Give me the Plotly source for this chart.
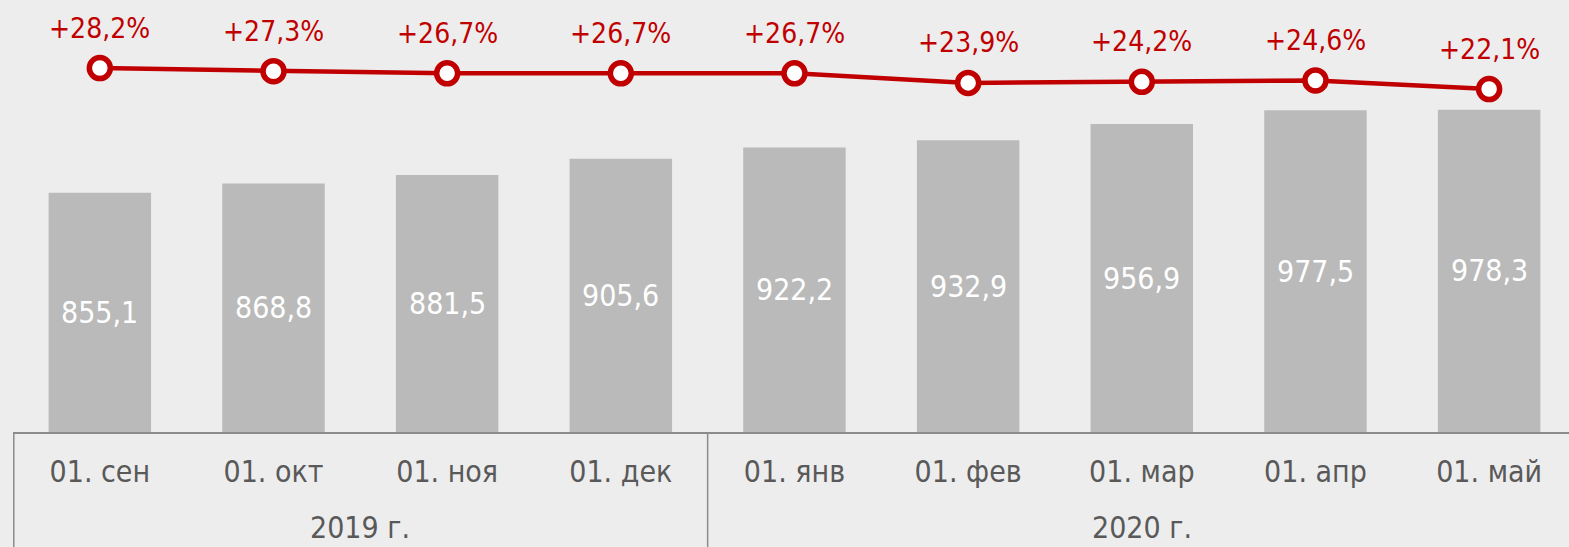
import plotly.graph_objects as go

categories = ["01. сен", "01. окт", "01. ноя", "01. дек", "01. янв",
              "01. фев", "01. мар", "01. апр", "01. май"]
bar_values = [855.1, 868.8, 881.5, 905.6, 922.2, 932.9, 956.9, 977.5, 978.3]
growth_pct = [28.2, 27.3, 26.7, 26.7, 26.7, 23.9, 24.2, 24.6, 22.1]
year_labels = ["2019 г.", "2020 г."]
year_centers = [1.5, 6.0]
year_dividers = [3.5]

Y_MIN, Y_MAX = 500, 1141

FONT = "DejaVu Sans Condensed, DejaVu Sans, sans-serif"
RED = "#C00000"
GREY_TXT = "#595959"
LINE_GREY = "#8C8C8C"

fig = go.Figure()
fig.add_trace(go.Bar(
    x=categories, y=bar_values, width=0.59,
    marker=dict(color="#BABABA", line=dict(width=0)),
    textposition="none", showlegend=False,
))
fig.add_trace(go.Scatter(
    x=categories, y=growth_pct, yaxis="y2", mode="lines+markers",
    line=dict(color=RED, width=4.5),
    marker=dict(size=21, color="white", line=dict(color=RED, width=5.5)),
    cliponaxis=False, showlegend=False,
))

# value labels centred in the visible part of each bar
for c, v in zip(categories, bar_values):
    fig.add_annotation(
        x=c, y=(v + Y_MIN) / 2, yref="y", showarrow=False,
        text=f"{v:.1f}".replace(".", ","),
        font=dict(family=FONT, size=30, color="white"),
    )

for c, v in zip(categories, growth_pct):
    fig.add_annotation(
        x=c, y=v, yref="y2", yshift=40, showarrow=False,
        text=("+" + f"{v:.1f}%").replace(".", ","),
        font=dict(family=FONT, size=28, color=RED),
    )

for xc, lbl in zip(year_centers, year_labels):
    fig.add_annotation(
        x=xc, xref="x", y=-0.2222, yref="paper", yanchor="middle",
        showarrow=False, text=lbl,
        font=dict(family=FONT, size=30, color=GREY_TXT),
    )

# group dividers
fig.add_shape(type="line", xref="paper", yref="paper", x0=0.0005, x1=0.0005,
              y0=0, y1=-0.27, line=dict(color=LINE_GREY, width=1.5))
for d in year_dividers:
    fig.add_shape(type="line", xref="x", yref="paper", x0=d, x1=d,
                  y0=0, y1=-0.27, line=dict(color=LINE_GREY, width=1.5))

fig.update_layout(
    width=1569, height=547,
    margin=dict(l=13, r=0, t=0, b=115),
    paper_bgcolor="#EDEDED", plot_bgcolor="#EDEDED",
    separators=", ",
    xaxis=dict(
        type="category", range=[-0.5, 8.46],
        showgrid=False, zeroline=False,
        showline=True, linecolor=LINE_GREY, linewidth=1.5,
        ticks="", ticklabelstandoff=12,
        tickfont=dict(family=FONT, size=30, color=GREY_TXT),
    ),
    yaxis=dict(range=[Y_MIN, Y_MAX], visible=False, showgrid=False),
    yaxis2=dict(range=[-77.6, 48.0], overlaying="y", visible=False,
                showgrid=False),
)

fig.write_html(
    "out.html",
    config={"displayModeBar": False},
    post_script="document.body.style.margin='0';"
                "document.body.style.background='#EDEDED';",
)
